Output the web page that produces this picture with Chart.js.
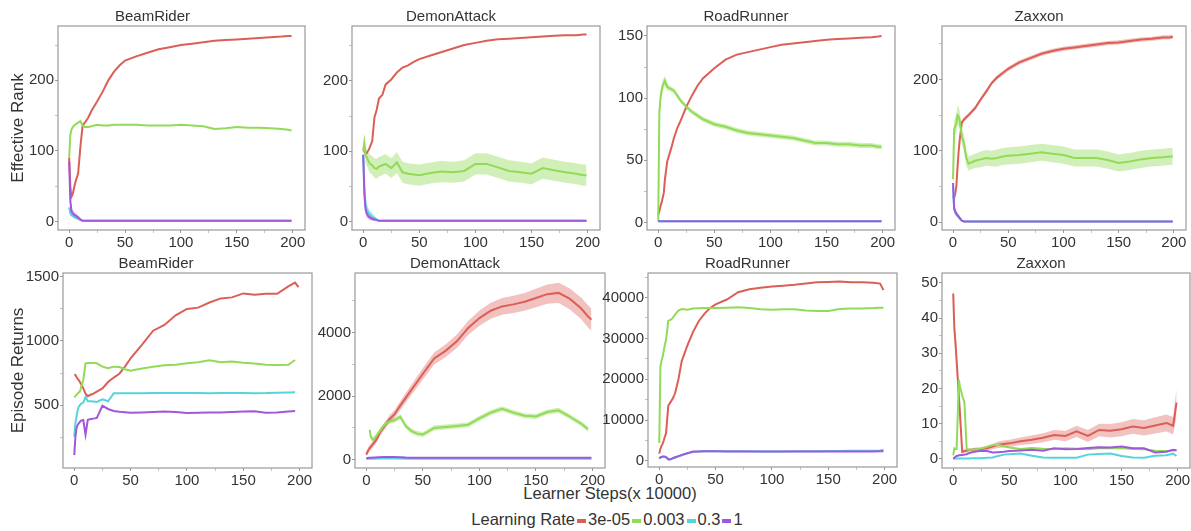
<!DOCTYPE html>
<html>
<head>
<meta charset="utf-8">
<script src="https://cdn.jsdelivr.net/npm/chart.js@4.4.1/dist/chart.umd.min.js"></script>
<style>
  body { margin: 0; width: 1191px; height: 531px; overflow: hidden; background: #fff; position: relative;
         font-family: "Liberation Sans", Arial, sans-serif; color: #333; }
  canvas { position: absolute; }
  #xlabel { position: absolute; left: 410px; width: 400px; top: 484px; text-align: center; font-size: 16.5px; }
  #legend { position: absolute; left: 307px; width: 600px; top: 510px; text-align: center; font-size: 16.5px; white-space: nowrap; }
  #legend .sw { display: inline-block; width: 9px; height: 4px; margin: 0 2px 0 2px; vertical-align: middle; }
</style>
</head>
<body>
<div id="xlabel">Learner Steps(x 10000)</div>
<div id="legend"></div>
<script>
// x positions (learner steps, x 10000) where values were read
const steps = [0,1,2,3,4,5,6,8,10,12,14,17,20,25,30,35,40,45,50,60,70,80,90,100,110,120,130,140,150,160,170,180,190,196,199];

const games = ['BeamRider', 'DemonAttack', 'RoadRunner', 'Zaxxon'];
const rates = ['3e-05', '0.003', '0.3', '1'];
const colors = ['#db5f57', '#91db57', '#57d3db', '#a157db'];
const bands = ['rgba(219,95,87,0.38)', 'rgba(145,219,87,0.42)', 'rgba(87,211,219,0.38)', 'rgba(161,87,219,0.38)'];

// ---- Effective Rank ----
const rankBeamRider_3e05 = [90,50,35,38,45,52,58,68,105,136,140,147,157,170,184,200,212,221,228,234,239,244,247,250,252,254,256,257,258,259,260,261,262,263,263];
const rankBeamRider_0003 = [90,122,130,133,135,137,138,140,142,136,134,134,135,137,136,136,137,137,137,137,136,136,136,137,136,135,131,132,134,133,133,132,131,130,129];
const rankBeamRider_03   = [20,12,9,8,7,6,5,4,2,1,1,1,1,1,1,1,1,1,1,1,1,1,1,1,1,1,1,1,1,1,1,1,1,1,1];
const rankBeamRider_1    = [85,30,15,12,10,9,8,6,3,1,1,1,1,1,1,1,1,1,1,1,1,1,1,1,1,1,1,1,1,1,1,1,1,1,1];
const rankBeamRider_1_sd = [6,8,6,5,5,4,4,3,2,0,0,0,0,0,0,0,0,0,0,0,0,0,0,0,0,0,0,0,0,0,0,0,0,0,0];

const rankDemonAttack_3e05 = [104,100,97,97,100,102,106,114,148,159,175,180,195,202,212,219,222,227,231,236,241,246,251,254,257,259,260,261,262,263,264,265,265,266,266];
const rankDemonAttack_0003 = [100,112,95,92,88,85,82,80,76,75,78,80,82,76,84,70,68,67,66,69,71,70,72,82,82,77,72,70,68,76,73,70,68,66,66];
const rankDemonAttack_0003_sd = [8,10,12,12,12,13,13,13,14,14,14,14,14,14,15,15,15,15,15,15,15,15,15,15,15,15,15,15,15,15,15,15,15,15,15];
const rankDemonAttack_03   = [95,50,25,18,14,12,10,7,5,3,1,1,1,1,1,1,1,1,1,1,1,1,1,1,1,1,1,1,1,1,1,1,1,1,1];
const rankDemonAttack_03_sd = [3,10,10,9,8,7,6,5,4,2,1,0,0,0,0,0,0,0,0,0,0,0,0,0,0,0,0,0,0,0,0,0,0,0,0];
const rankDemonAttack_1    = [95,40,18,12,9,7,6,4,3,2,1,1,1,1,1,1,1,1,1,1,1,1,1,1,1,1,1,1,1,1,1,1,1,1,1];
const rankDemonAttack_1_sd = [3,8,7,6,5,4,4,3,2,1,0,0,0,0,0,0,0,0,0,0,0,0,0,0,0,0,0,0,0,0,0,0,0,0,0];

const rankRoadRunner_3e05 = [6,9,13,16,20,24,35,49,55,61,68,76,82,93,102,110,116,120,124,131,135,137,139,141,143,144,145,146,147,147.5,148,148.5,149,149.5,150];
const rankRoadRunner_0003 = [1,88,100,106,110,112,114,109,108,107,106,102,98,93,89,86,83,81,79,77,74,72,71,70,69,68,66,64,64,63,63,62,62,61,61];
const rankRoadRunner_0003_sd = [0,6,6,5,5,4,4,3,2,2,2,2,2,2,2,2,2,2,2,2,2,2,2,2,2,2,2,2,2,2,2,2,2,2,2];
const rankRoadRunner_03   = [1,1,1,1,1,1,1,1,1,1,1,1,1,1,1,1,1,1,1,1,1,1,1,1,1,1,1,1,1,1,1,1,1,1,1];
const rankRoadRunner_1    = [1,1,1,1,1,1,1,1,1,1,1,1,1,1,1,1,1,1,1,1,1,1,1,1,1,1,1,1,1,1,1,1,1,1,1];

const rankZaxxon_3e05 = [36,34,40,50,75,98,115,140,144,147,150,155,160,172,183,195,203,209,215,224,230,236,240,243,245,247,249,251,252,254,256,257,259,259,260];
const rankZaxxon_3e05_sd = [2,2,2,2,3,3,3,3,3,3,3,3,3,3,3,3,3,3,3,3,3,3,3,3,3,3,3,3,3,3,3,3,3,3,3];
const rankZaxxon_0003 = [60,130,135,138,150,148,143,120,110,90,82,84,86,88,90,89,90,92,93,94,96,98,96,94,90,90,90,87,83,85,88,90,91,92,92];
const rankZaxxon_0003_sd = [10,12,12,13,14,14,13,12,12,11,10,10,10,11,11,11,12,12,12,12,12,12,12,12,12,12,12,12,12,12,12,12,12,12,12];
const rankZaxxon_03   = [50,18,13,11,9,7,5,2,1,1,1,1,1,1,1,1,1,1,1,1,1,1,1,1,1,1,1,1,1,1,1,1,1,1,1];
const rankZaxxon_1    = [55,20,15,12,10,8,6,2,1,1,1,1,1,1,1,1,1,1,1,1,1,1,1,1,1,1,1,1,1,1,1,1,1,1,1];
const rankZaxxon_1_sd = [2,5,5,4,4,3,3,1,0,0,0,0,0,0,0,0,0,0,0,0,0,0,0,0,0,0,0,0,0,0,0,0,0,0,0];

// ---- Episode Returns ----
const retBeamRider_3e05 = [740,735,720,705,696,680,665,631,590,570,579,590,605,630,680,715,745,800,865,970,1080,1125,1200,1250,1260,1300,1332,1340,1371,1360,1368,1368,1425,1455,1420];
const retBeamRider_0003 = [560,570,580,590,600,605,640,696,826,828,828,828,826,800,787,800,797,780,768,785,800,810,815,826,835,850,835,840,830,825,815,813,815,852,null];
const retBeamRider_03   = [255,360,410,460,487,500,510,520,565,530,530,528,525,545,530,592,592,592,592,593,594,595,595,595,594,593,594,595,594,593,594,597,599,600,null];
const retBeamRider_1    = [110,250,320,345,358,370,380,384,270,385,390,395,400,495,470,455,448,445,440,443,447,450,446,438,440,442,443,446,450,452,440,443,450,455,null];

const retDemonAttack_3e05 = [160,250,314,360,400,450,500,580,700,850,950,1100,1256,1430,1700,1950,2200,2450,2700,3180,3420,3720,4136,4450,4680,4816,4880,4960,5078,5200,5240,5050,4750,4500,4400];
const retDemonAttack_3e05_sd = [50,80,100,100,100,100,100,100,100,110,110,110,120,130,140,150,160,170,180,190,200,210,220,240,250,260,270,280,290,300,320,330,340,350,350];
const retDemonAttack_0003 = [null,null,null,940,720,660,630,700,800,900,1000,1120,1200,1240,1350,1050,900,820,790,1000,1030,1060,1100,1300,1480,1600,1480,1380,1360,1500,1550,1350,1130,960,null];
const retDemonAttack_0003_sd = [80,80,80,80,80,80,80,80,80,80,80,80,80,80,80,80,80,80,80,80,80,80,80,80,80,80,80,80,80,80,80,80,80,80,80];
const retDemonAttack_03   = [20,25,28,30,30,30,30,32,35,38,40,42,40,38,36,34,32,30,30,30,30,30,30,30,30,30,30,30,30,30,30,30,30,30,30];
const retDemonAttack_1    = [50,55,60,60,62,64,66,70,75,80,85,88,88,85,80,70,65,62,60,60,60,60,60,60,60,60,60,60,60,60,60,60,60,60,60];

const retRoadRunner_3e05 = [1800,3000,3700,4250,5000,6000,6700,13500,14400,15300,16500,20000,24500,28300,31600,34200,36000,37400,38300,39500,41300,42000,42400,42700,42900,43100,43400,43700,43800,43900,43700,43700,43600,43400,41800];
const retRoadRunner_0003 = [4400,23000,24500,25500,27000,28500,29600,34300,34500,35000,35800,36800,37200,37000,37300,37350,37400,37400,37400,37500,37600,37400,37100,37000,37100,37100,36800,36700,36700,37200,37300,37300,37400,37500,37500];
const retRoadRunner_03   = [500,800,900,1000,1050,1100,1000,500,400,600,800,1100,1400,1900,2200,2350,2400,2400,2400,2400,2400,2400,2350,2350,2350,2400,2400,2400,2450,2450,2500,2500,2500,2550,2750];
const retRoadRunner_1    = [700,900,1000,1100,1100,1000,900,400,450,700,900,1200,1500,1900,2300,2350,2400,2400,2380,2350,2350,2350,2330,2300,2300,2300,2320,2330,2350,2350,2350,2350,2350,2380,2400];

const retZaxxon_3e05 = [47,37,33,28,23,18,13,2.0,2.2,2.3,2.5,2.6,2.7,2.8,3.0,3.5,4.0,4.2,4.4,5.0,5.4,6.0,6.8,6.5,7.8,6.5,8.2,8.0,8.4,9.2,8.8,9.5,10.2,9.4,16];
const retZaxxon_3e05_sd = [3,3,3,3,3,2,2,0.5,0.5,0.5,0.5,0.5,0.5,0.6,0.7,0.8,0.9,1.0,1.0,1.1,1.2,1.3,1.4,1.5,1.6,1.7,1.8,1.9,2.0,2.1,2.2,2.3,2.4,2.5,4.0];
const retZaxxon_0003 = [1,3,2.8,2.8,12,22.5,20.5,18,16,2.7,2.6,2.6,2.7,2.9,3.4,3.9,4.0,3.6,3.2,2.8,3.1,2.9,2.8,3.0,2.9,2.7,3.0,3.1,3.0,2.8,2.7,2.3,2.2,2.4,2.5];
const retZaxxon_03   = [0,0.1,0.1,0.1,0.1,0.1,0.1,0.1,0.1,0.1,0.1,0.2,0.2,0.2,0.3,0.4,0.8,1.2,1.3,1.5,0.9,0.4,0.3,0.3,0.3,1.2,1.4,1.5,0.8,0.4,0.3,0.9,1.0,1.5,0.8];
const retZaxxon_1    = [0,0.3,0.6,0.8,0.9,1.0,1.0,1.1,1.2,1.3,1.6,1.9,2.1,2.3,2.2,1.8,1.9,2.0,2.2,2.4,2.6,2.3,3.0,2.7,2.8,3.1,3.3,3.2,3.5,3.0,3.0,1.8,2.0,2.6,2.4];

// tick values
const xMajor = [0,50,100,150,200];
const xMinor = [25,75,125,175];
const rankMajor = [0,100,200], rankMinor = [50,150,250];
const rankRRMajor = [0,50,100,150], rankRRMinor = [25,75,125];
const retBRMajor = [500,1000,1500], retBRMinor = [250,750,1250];
const retDAMajor = [0,2000,4000], retDAMinor = [1000,3000,5000];
const retRRMajor = [0,10000,20000,30000,40000], retRRMinor = [5000,15000,25000,35000,45000];
const retZXMajor = [0,10,20,30,40,50], retZXMinor = [5,15,25,35,45];

// axis limits
const xLim = [-10, 211];
const yLims = [[-12,277],[-12,278],[-6,158],[-11,275],[10,1530],[-260,5865],[-1470,45990],[-2.6,52.8]];

const FONT = '"Liberation Sans", Arial, sans-serif';
const TEXT = '#333';
const FRAME = '#9a9a9a';

const panels = [
  { title: games[0], ylabel: 'Effective Rank', box: [58,26,305,230], major: rankMajor, minor: rankMinor,
    series: [rankBeamRider_3e05, rankBeamRider_0003, rankBeamRider_03, rankBeamRider_1], sd: [null, null, null, rankBeamRider_1_sd] },
  { title: games[1], box: [352,26,600,230], major: rankMajor, minor: rankMinor,
    series: [rankDemonAttack_3e05, rankDemonAttack_0003, rankDemonAttack_03, rankDemonAttack_1], sd: [null, rankDemonAttack_0003_sd, rankDemonAttack_03_sd, rankDemonAttack_1_sd] },
  { title: games[2], box: [647,26,895,230], major: rankRRMajor, minor: rankRRMinor,
    series: [rankRoadRunner_3e05, rankRoadRunner_0003, rankRoadRunner_03, rankRoadRunner_1], sd: [null, rankRoadRunner_0003_sd, null, null] },
  { title: games[3], box: [942,26,1186,230], major: rankMajor, minor: rankMinor,
    series: [rankZaxxon_3e05, rankZaxxon_0003, rankZaxxon_03, rankZaxxon_1], sd: [rankZaxxon_3e05_sd, rankZaxxon_0003_sd, null, rankZaxxon_1_sd] },
  { title: games[0], ylabel: 'Episode Returns', box: [63,273,312,468], major: retBRMajor, minor: retBRMinor,
    series: [retBeamRider_3e05, retBeamRider_0003, retBeamRider_03, retBeamRider_1], sd: [null, null, null, null] },
  { title: games[1], box: [355,273,605,468], major: retDAMajor, minor: retDAMinor,
    series: [retDemonAttack_3e05, retDemonAttack_0003, retDemonAttack_03, retDemonAttack_1], sd: [retDemonAttack_3e05_sd, retDemonAttack_0003_sd, null, null] },
  { title: games[2], box: [648,273,897,467], major: retRRMajor, minor: retRRMinor,
    series: [retRoadRunner_3e05, retRoadRunner_0003, retRoadRunner_03, retRoadRunner_1], sd: [null, null, null, null] },
  { title: games[3], box: [942,273,1190,468], major: retZXMajor, minor: retZXMinor,
    series: [retZaxxon_3e05, retZaxxon_0003, retZaxxon_03, retZaxxon_1], sd: [retZaxxon_3e05_sd, null, null, null] }
];

const framePlugin = {
  id: 'frame',
  afterDatasetsDraw(chart) {
    const { ctx, chartArea: a } = chart;
    ctx.save();
    ctx.strokeStyle = FRAME;
    ctx.lineWidth = 1.2;
    ctx.strokeRect(a.left, a.top, a.right - a.left, a.bottom - a.top);
    ctx.restore();
  }
};

function points(vals, sd, sign) {
  return steps.map((x, i) => ({ x: x, y: vals[i] == null ? null : vals[i] + sign * (sd ? sd[i] : 0) }));
}

function makePanel(p, idx) {
  const titleSize = 15, titleH = titleSize + 4, xh = 23, padR = 14;
  const yw = p.ylabel ? p.box[0] : 50;
  const w = yw + (p.box[2] - p.box[0]) + padR;
  const h = titleH + (p.box[3] - p.box[1]) + xh;
  const cv = document.createElement('canvas');
  cv.width = w; cv.height = h;
  cv.style.width = w + 'px'; cv.style.height = h + 'px';
  cv.style.left = (p.box[0] - yw) + 'px';
  cv.style.top = (p.box[1] - titleH) + 'px';
  document.body.appendChild(cv);

  const datasets = [];
  p.series.forEach((vals, k) => {
    datasets.push({ data: points(vals, null, 0), borderColor: colors[k], borderWidth: 2,
                    pointRadius: 0, fill: false, order: 3 - k });
  });
  p.sd.forEach((sd, k) => {
    if (!sd) return;
    datasets.push({ data: points(p.series[k], sd, 1), borderWidth: 0, borderColor: 'rgba(0,0,0,0)',
                    pointRadius: 0, fill: false, order: 10 + k });
    datasets.push({ data: points(p.series[k], sd, -1), borderWidth: 0, borderColor: 'rgba(0,0,0,0)',
                    backgroundColor: bands[k], pointRadius: 0, fill: '-1', order: 10 + k });
  });

  const yTicks = p.major.concat(p.minor).sort((a, b) => a - b);
  const xTicks = xMajor.concat(xMinor).sort((a, b) => a - b);
  const tickFont = { family: FONT, size: 15 };

  new Chart(cv, {
    type: 'line',
    data: { datasets: datasets },
    options: {
      responsive: false,
      animation: false,
      devicePixelRatio: 1,
      layout: { padding: { left: 0, right: padR, top: 0, bottom: 0 } },
      plugins: {
        legend: { display: false },
        tooltip: { enabled: false },
        title: { display: true, text: p.title, color: TEXT,
                 font: { family: FONT, size: titleSize, weight: 'normal', lineHeight: 1 },
                 padding: { top: 2, bottom: 2 } }
      },
      scales: {
        x: {
          type: 'linear', min: xLim[0], max: xLim[1],
          afterFit: s => { s.height = xh; },
          afterBuildTicks: s => { s.ticks = xTicks.map(v => ({ value: v })); },
          border: { display: false },
          grid: { drawOnChartArea: false, tickLength: 3,
                  tickColor: c => xMajor.includes(c.tick && c.tick.value) ? FRAME : '#c4c4c4' },
          ticks: { autoSkip: false, maxRotation: 0, minRotation: 0, padding: 1, color: TEXT, font: tickFont,
                   callback: v => xMajor.includes(v) ? String(v) : '' }
        },
        y: {
          type: 'linear', min: yLims[idx][0], max: yLims[idx][1],
          afterFit: s => { s.width = yw; },
          afterBuildTicks: s => { s.ticks = yTicks.map(v => ({ value: v })); },
          border: { display: false },
          grid: { drawOnChartArea: false, tickLength: 3,
                  tickColor: c => p.major.includes(c.tick && c.tick.value) ? FRAME : '#c4c4c4' },
          ticks: { autoSkip: false, padding: 1, color: TEXT, font: tickFont,
                   callback: v => p.major.includes(v) ? String(v) : '' },
          title: { display: !!p.ylabel, text: p.ylabel || '', color: TEXT,
                   font: { family: FONT, size: 17 }, padding: { top: 8, bottom: 0 } }
        }
      }
    },
    plugins: [framePlugin]
  });
}

panels.forEach(makePanel);

// legend row
const legend = document.getElementById('legend');
legend.appendChild(document.createTextNode('Learning Rate'));
rates.forEach((r, k) => {
  const sw = document.createElement('span');
  sw.className = 'sw';
  sw.style.background = colors[k];
  legend.appendChild(sw);
  legend.appendChild(document.createTextNode(r));
});
</script>
</body>
</html>
